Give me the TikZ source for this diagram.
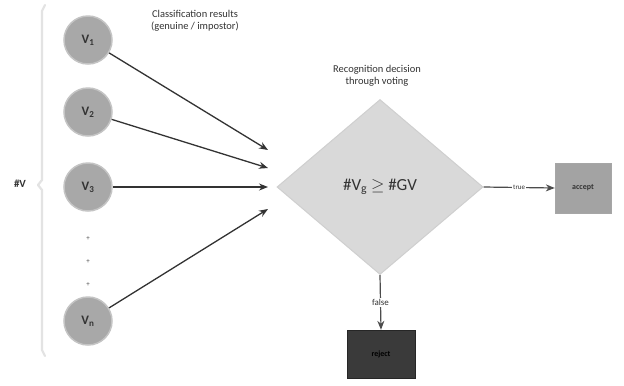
\documentclass[tikz,border=0pt]{standalone}
\usepackage{fontspec}
\setmainfont{Carlito}
\usetikzlibrary{shapes.geometric,arrows.meta}
\definecolor{circfill}{HTML}{A8A8A8}
\definecolor{circline}{HTML}{C4C4C4}
\definecolor{diafill}{HTML}{D9D9D9}
\definecolor{diline}{HTML}{CFCFCF}
\definecolor{accfill}{HTML}{A3A3A3}
\definecolor{rejfill}{HTML}{3A3A3A}
\definecolor{txtgray}{HTML}{333333}
\begin{document}
\begin{tikzpicture}[x=1bp,y=-1bp,
  vnode/.style={circle,fill=circfill,draw=circline,line width=1.5bp,minimum size=48bp,inner sep=0pt,font=\fontsize{13}{13}\selectfont\bfseries,text=txtgray},
  conn/.style={-{Stealth[length=9bp,width=7bp]},line width=1.3bp,black!80},
  smalltxt/.style={font=\fontsize{10.5}{12.5}\selectfont,text=txtgray,align=center},
  dotmark/.style={font=\fontsize{7}{7}\selectfont,text=black!70}
]
\useasboundingbox (0,0) rectangle (624,385);
\fill[white] (0,0) rectangle (624,385);
% brace
\draw[gray!22,line width=2.2bp,line cap=round,line join=round]
  (45,5) -- (42,11) -- (42,180) -- (38,185) -- (42,190) -- (42,350) -- (45,356);
\node[font=\fontsize{11}{11}\selectfont\bfseries,text=txtgray] (hv) at (20,184) {\#V};
% circles
\node[vnode] (v1) at (88,40) {V\textsubscript{1}};
\node[vnode] (v2) at (88,112) {V\textsubscript{2}};
\node[vnode] (v3) at (88,187) {V\textsubscript{3}};
\node[vnode] (vn) at (88,321) {V\textsubscript{n}};
\node[dotmark] (d1) at (88,239) {+};
\node[dotmark] (d2) at (88,262) {+};
\node[dotmark] (d3) at (88,285) {+};
\node[smalltxt] (cls) at (195,21) {Classification results\\(genuine / impostor)};
% arrow ends
\coordinate (a1) at (268,150);
\coordinate (a2) at (268,168);
\coordinate (a3) at (268,187);
\coordinate (a4) at (268,209);
\draw[conn] (v1) -- (a1);
\draw[conn] (v2) -- (a2);
\draw[conn] (v3) -- (a3);
\draw[conn] (vn) -- (a4);
% diamond
\node[diamond,fill=diafill,draw=diline,line width=1bp,minimum width=206bp,minimum height=175bp,inner sep=0pt,
  font=\fontsize{17}{17}\selectfont,text=txtgray] (dec) at (380,187) {\#V\textsubscript{g} $\geq$ \#GV};
\node[smalltxt] (rec) at (377,76) {Recognition decision\\through voting};
% accept / reject
\node[rectangle,fill=accfill,draw=gray!70,minimum width=56bp,minimum height=50bp,inner sep=0pt,
  font=\fontsize{8}{8}\selectfont\bfseries,text=txtgray] (acc) at (583,188) {accept};
\node[rectangle,fill=rejfill,draw=black!85,minimum width=68bp,minimum height=48bp,inner sep=0pt,
  font=\fontsize{8}{8}\selectfont\bfseries,text=black] (rej) at (381,354) {reject};
\draw[conn,line width=1.2bp,black!70] (dec.east) -- node[fill=white,inner sep=1pt,font=\fontsize{7}{7}\selectfont,text=txtgray] {true} (acc.west);
\draw[conn,line width=1.2bp,black!70] (dec.south) -- node[fill=white,inner sep=1pt,font=\fontsize{9}{9}\selectfont,text=txtgray] {false} (rej.north);
\end{tikzpicture}
\end{document}
